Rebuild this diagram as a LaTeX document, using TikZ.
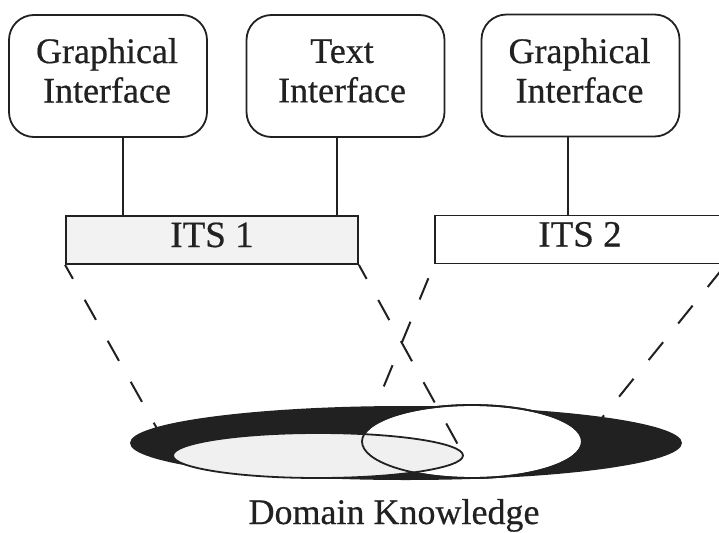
\documentclass[tikz,border=0pt]{standalone}
\usepackage{fontspec}
\setmainfont[FakeBold=0.5]{Liberation Serif}
\usetikzlibrary{shapes.geometric}
\definecolor{ink}{gray}{0.13}
\begin{document}
\begin{tikzpicture}[x=1pt,y=-1pt,
  ifbox/.style={draw=ink, line width=1.8pt, rounded corners=25pt,
    minimum width=198pt, minimum height=122pt, inner sep=0pt, fill=white},
  iftext/.style={align=center, font=\fontsize{36}{39.5}\selectfont,
    text=ink, inner sep=0pt},
  itsbox/.style={draw=ink, line width=1.8pt, minimum height=48pt,
    inner sep=0pt, font=\fontsize{37}{40}\selectfont, text=ink,
    text height=20pt, text depth=6pt},
  link/.style={draw=ink, line width=1.4pt},
  proj/.style={draw=ink, line width=2pt, dash pattern=on 23pt off 24pt},
  oval/.style={ellipse, inner sep=0pt},
]
\useasboundingbox (0,0) rectangle (719,532);

% interfaces
\node[ifbox] (gi1) at (108,76) {};
\node[iftext] (gi1t) at (107,70.5) {Graphical\\Interface};
\node[ifbox] (ti) at (345.5,76) {};
\node[iftext] (tit) at (342,71) {Text\\Interface};
\node[ifbox] (gi2) at (580.5,75.5) {};
\node[iftext] (gi2t) at (579.5,70.5) {Graphical\\Interface};

% tutoring systems
\node[itsbox, fill=black!5, minimum width=292pt] (its1) at (212,240) {ITS 1};
\node[itsbox, fill=white, minimum width=290pt] (its2) at (580,239.5) {ITS 2};

% interface links
\draw[link] ([xshift=15pt]gi1.south) -- ([xshift=15pt]gi1.south |- its1.north);
\draw[link] ([xshift=-8.5pt]ti.south) -- ([xshift=-8.5pt]ti.south |- its1.north);
\draw[link] ([xshift=-12.5pt]gi2.south) -- ([xshift=-12.5pt]gi2.south |- its2.north);

% domain knowledge and the two covered parts
\node[oval, fill=ink, minimum width=552pt, minimum height=74pt] (dk) at (406,443) {};
\node[oval, fill=white, draw=ink, line width=1.8pt,
  minimum width=220pt, minimum height=73pt] (kb2) at (472,441.5) {};
\node[oval, fill=black!6, draw=ink, line width=1.8pt,
  minimum width=290pt, minimum height=45pt] (kb1) at (318,455.5) {};
\node[oval, draw=ink, line width=1.8pt,
  minimum width=220pt, minimum height=73pt] (kb2o) at (kb2.center) {};

% projections onto the domain
\draw[proj, dash phase=7pt] (its1.south west) -- (kb1.west);
\draw[proj, dash phase=7pt] (its1.south east) -- (kb1.east);
\draw[proj, dash phase=32pt] (its2.south west) -- (kb2.west);
\draw[proj, dash phase=41pt] (its2.south east) -- (kb2.east);

\node[font=\fontsize{36}{40}\selectfont, text=ink, anchor=base,
  inner sep=0pt] (dkl) at (394,524) {Domain Knowledge};
\end{tikzpicture}
\end{document}
